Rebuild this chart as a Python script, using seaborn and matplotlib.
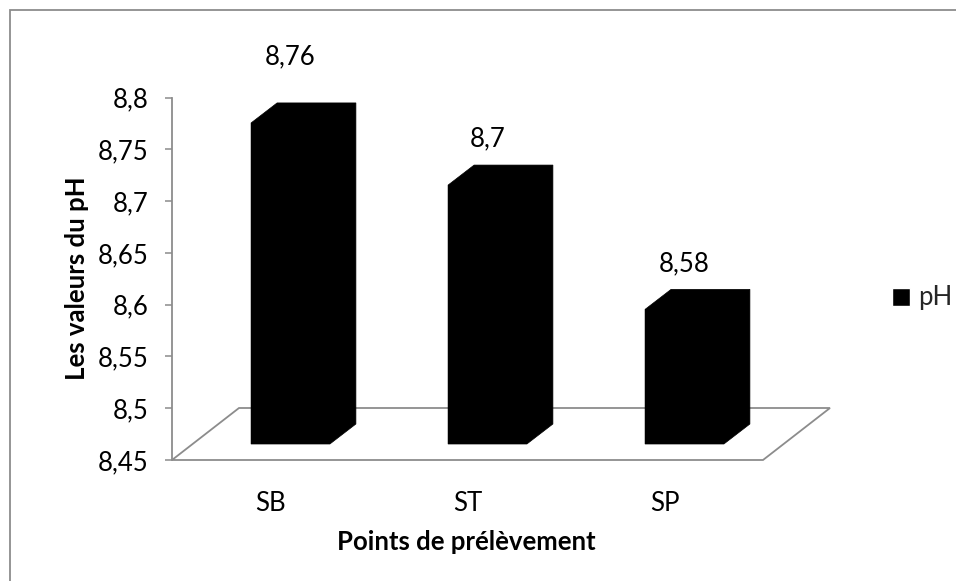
import matplotlib
matplotlib.use("Agg")
import matplotlib.pyplot as plt
import numpy as np
import pandas as pd
import seaborn as sns
from matplotlib.patches import Polygon, Rectangle, Patch

# pH measured at each sampling point
categories = ["SB", "ST", "SP"]
ph_values = [8.76, 8.70, 8.58]
value_labels = ["8,76", "8,7", "8,58"]
y_ticks = [8.45, 8.50, 8.55, 8.60, 8.65, 8.70, 8.75, 8.80]
y_tick_labels = ["8,45", "8,5", "8,55", "8,6", "8,65", "8,7", "8,75", "8,8"]
series_name = "pH"

sns.set_theme(style="white")
plt.rcParams["font.family"] = ["Lato", "DejaVu Sans"]

W, H = 956, 581
FS = 18.5
GREY = "#8c8c8c"
floor = y_ticks[0]

fig = plt.figure(figsize=(W / 100, H / 100), dpi=100)
fig.patch.set_facecolor("white")

# front plane of the plot area, in pixels
left, right, bottom, top = 172, 763, 460, 97.5
ax = fig.add_axes([left / W, 1 - bottom / H, (right - left) / W, (bottom - top) / H])

df = pd.DataFrame({"point": categories, "pH": ph_values})
sns.barplot(data=df, x="point", y="pH", color="black", saturation=1,
            width=0.4, ax=ax, errorbar=None, zorder=3)
ax.set_xlim(-0.5, len(categories) - 0.5)
ax.set_ylim(y_ticks[0], y_ticks[-1])

# pixel offsets of the bar front face and back face (depth effect)
FRONT = (20, 16)
BACK = (46, 36)
DEPTH = (67, 52)


def shift(x, y, d):
    px, py = ax.transData.transform((x, y))
    return ax.transData.inverted().transform((px + d[0], py + d[1]))


# floor of the 3D plot area
floor_pts = [(-0.5, floor), (len(categories) - 0.5, floor),
             tuple(shift(len(categories) - 0.5, floor, DEPTH)),
             tuple(shift(-0.5, floor, DEPTH))]
ax.add_patch(Polygon(floor_pts, closed=True, fill=False, edgecolor=GREY,
                     linewidth=1.3, zorder=1, clip_on=False))

# turn each flat bar into an extruded column
bars = [p for p in ax.patches if isinstance(p, Rectangle)]
for patch, v in zip(bars, ph_values):
    x0 = patch.get_x()
    x1 = x0 + patch.get_width()
    fbl = shift(x0, floor, FRONT)
    ftl = shift(x0, v, FRONT)
    ftr = shift(x1, v, FRONT)
    btl = shift(x0, v, BACK)
    btr = shift(x1, v, BACK)
    bbr = shift(x1, floor, BACK)
    fbr = shift(x1, floor, FRONT)
    patch.set_xy(fbl)
    patch.set_height(ftl[1] - fbl[1])
    patch.set_width(ftr[0] - ftl[0])
    patch.set_edgecolor("black")
    patch.set_linewidth(0)
    patch.set_clip_on(False)
    ax.add_patch(Polygon([fbl, ftl, btl, btr, bbr, fbr], closed=True,
                         facecolor="black", edgecolor="black", linewidth=0.5,
                         zorder=4, clip_on=False))

# value labels above the columns
label_lift = [66, 46, 46]
for i, (v, txt, lift) in enumerate(zip(ph_values, value_labels, label_lift)):
    ax.annotate(txt, xy=(i, v), xytext=(FRONT[0] * 0.72, (FRONT[1] + lift) * 0.72),
                textcoords="offset points", ha="center", va="center",
                fontsize=FS, color="black", annotation_clip=False)

# axes styling
for side in ["top", "right", "bottom"]:
    ax.spines[side].set_visible(False)
ax.spines["left"].set_color(GREY)
ax.spines["left"].set_linewidth(1.3)
ax.set_yticks(y_ticks)
ax.set_yticklabels(y_tick_labels)
ax.tick_params(axis="y", left=True, length=5, width=1.1, color=GREY,
               pad=12, labelsize=FS, labelcolor="black")
ax.tick_params(axis="x", bottom=False, pad=16, labelsize=FS, labelcolor="black")
ax.set_xlabel("Points de prélèvement", fontsize=FS, fontweight="bold", color="black")
ax.set_ylabel("Les valeurs du pH", fontsize=FS, fontweight="bold", color="black")
ax.xaxis.set_label_coords((466 - left) / (right - left), (bottom - 542) / (bottom - top))
ax.xaxis.label.set_va("center")
ax.yaxis.set_label_coords((77 - left) / (right - left), (bottom - 278) / (bottom - top))
ax.yaxis.label.set_va("center")
ax.set_facecolor("none")
ax.grid(False)

# legend
ax.legend(handles=[Patch(facecolor="black", label=series_name)], loc="center left",
          bbox_to_anchor=(892 / W, 1 - 298 / H), bbox_transform=fig.transFigure,
          frameon=False, fontsize=FS, handlelength=0.7, handleheight=0.7,
          handletextpad=0.3, borderpad=0, borderaxespad=0)

# chart border
fig.add_artist(Rectangle((9.5 / W, -0.1), 1.2, 1 - 9.5 / H + 0.1,
                         transform=fig.transFigure, fill=False,
                         edgecolor=GREY, linewidth=1.3))

fig.savefig("out.png", dpi=100, facecolor="white")
